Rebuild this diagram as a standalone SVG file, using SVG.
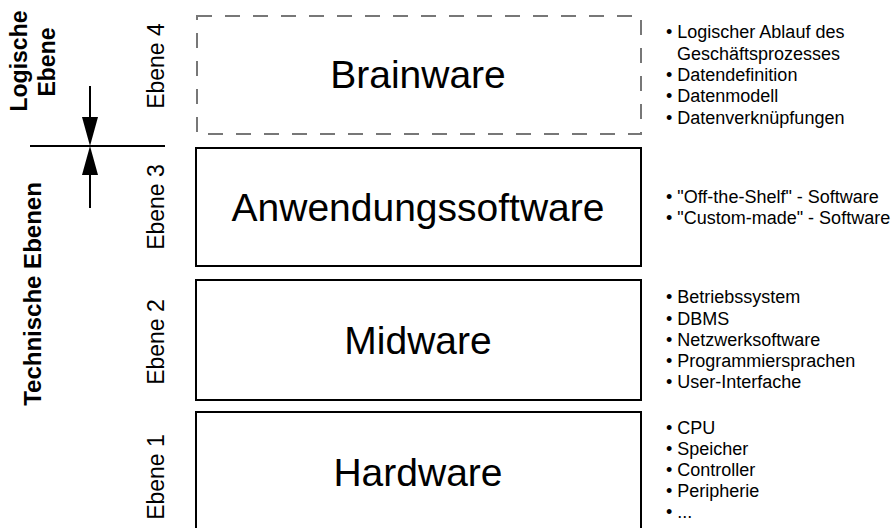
<svg xmlns="http://www.w3.org/2000/svg" width="892" height="528" viewBox="0 0 892 528">
<defs>
<style>
.box{fill:#fff;stroke:#000;stroke-width:2}
.dash{fill:none;stroke:#777;stroke-width:2;stroke-dasharray:15 13}
.big{font-family:"Liberation Sans",Arial,sans-serif;font-size:39px;fill:#000;text-anchor:middle}
.lvl{font-family:"Liberation Sans",Arial,sans-serif;font-size:23px;fill:#000;text-anchor:middle}
.bold{font-family:"Liberation Sans",Arial,sans-serif;font-size:23px;font-weight:bold;fill:#000;text-anchor:middle}
.li{font-family:"Liberation Sans",Arial,sans-serif;font-size:18px;fill:#000}
.ln{stroke:#000;stroke-width:2;fill:none}
</style>
</defs>
<rect width="892" height="528" fill="#fff"/>

<g id="labels-left">
<text class="bold" transform="translate(27,61) rotate(-90)">Logische</text>
<text class="bold" transform="translate(55,62) rotate(-90)">Ebene</text>
<text class="bold" style="font-size:24px" transform="translate(41,294) rotate(-90)">Technische Ebenen</text>
</g>

<g id="connectors">
<line class="ln" x1="30" y1="146" x2="165" y2="146"/>
<path d="M90,86 V117" class="ln"/>
<path d="M82,117 L98,117 L90,146 Z" fill="#000"/>
<path d="M90,175 V208" class="ln"/>
<path d="M82,175 L98,175 L90,146 Z" fill="#000"/>
</g>

<g id="ebene4">
<rect class="dash" x="197" y="16" width="444" height="118"/>
<text class="lvl" transform="translate(164,66) rotate(-90)">Ebene 4</text>
<text class="big" x="418" y="88">Brainware</text>
<text class="li" x="666" y="38">• Logischer Ablauf des</text>
<text class="li" x="677" y="60">Geschäftsprozesses</text>
<text class="li" x="666" y="81">• Datendefinition</text>
<text class="li" x="666" y="102">• Datenmodell</text>
<text class="li" x="666" y="124">• Datenverknüpfungen</text>
</g>

<g id="ebene3">
<rect class="box" x="196" y="148" width="445" height="118"/>
<text class="lvl" transform="translate(164,207) rotate(-90)">Ebene 3</text>
<text class="big" x="418" y="221">Anwendungssoftware</text>
<text class="li" x="666" y="203">• "Off-the-Shelf" - Software</text>
<text class="li" x="666" y="224">• "Custom-made" - Software</text>
</g>

<g id="ebene2">
<rect class="box" x="196" y="280" width="445" height="120"/>
<text class="lvl" transform="translate(164,342) rotate(-90)">Ebene 2</text>
<text class="big" x="418" y="354">Midware</text>
<text class="li" x="666" y="303">• Betriebssystem</text>
<text class="li" x="666" y="325">• DBMS</text>
<text class="li" x="666" y="346">• Netzwerksoftware</text>
<text class="li" x="666" y="367">• Programmiersprachen</text>
<text class="li" x="666" y="388">• User-Interfache</text>
</g>

<g id="ebene1">
<rect class="box" x="196" y="412" width="445" height="122"/>
<text class="lvl" transform="translate(164,477) rotate(-90)">Ebene 1</text>
<text class="big" x="418" y="486">Hardware</text>
<text class="li" x="666" y="434">• CPU</text>
<text class="li" x="666" y="455">• Speicher</text>
<text class="li" x="666" y="476">• Controller</text>
<text class="li" x="666" y="497">• Peripherie</text>
<text class="li" x="666" y="518">• ...</text>
</g>
</svg>
